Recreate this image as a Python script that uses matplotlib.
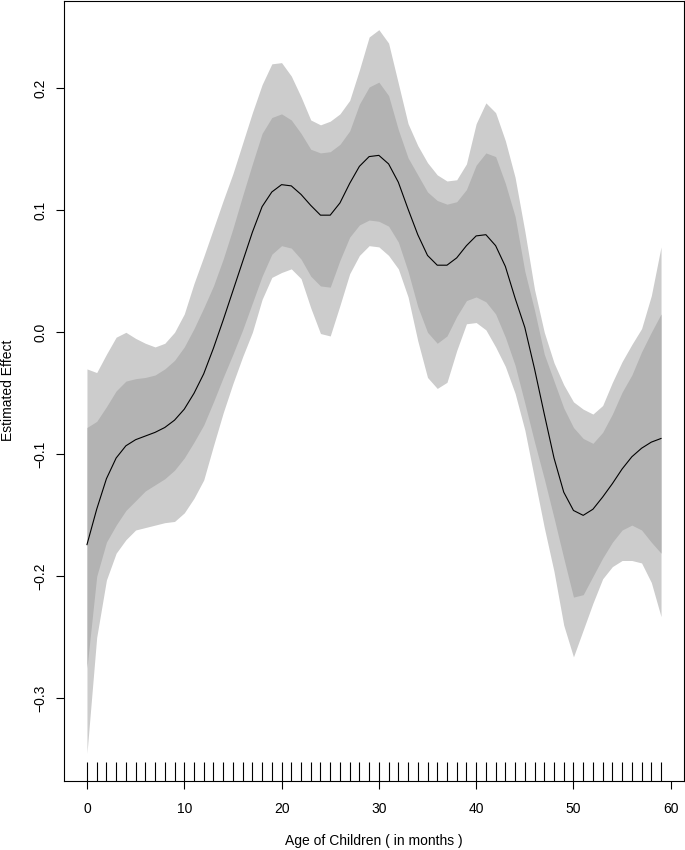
import matplotlib
matplotlib.use("Agg")
import matplotlib.pyplot as plt
import numpy as np

plt.rcParams['font.family'] = ['Liberation Sans', 'DejaVu Sans']

# age in months (one rug mark per observed age)
age = list(range(60))

# estimated smooth effect
effect = [-0.174, -0.145, -0.120, -0.103, -0.093, -0.088, -0.085, -0.082, -0.078, -0.072,
          -0.063, -0.050, -0.034, -0.013, 0.010, 0.034, 0.058, 0.082, 0.103, 0.115,
          0.121, 0.120, 0.113, 0.104, 0.096, 0.096, 0.106, 0.122, 0.136, 0.144,
          0.145, 0.138, 0.123, 0.101, 0.080, 0.063, 0.055, 0.055, 0.061, 0.071,
          0.079, 0.080, 0.071, 0.054, 0.028, 0.004, -0.030, -0.067, -0.103, -0.131,
          -0.146, -0.150, -0.145, -0.135, -0.124, -0.112, -0.102, -0.095, -0.090, -0.087]

# inner (dark) band
inner_hi = [-0.078, -0.073, -0.061, -0.048, -0.040, -0.038, -0.037, -0.035, -0.030, -0.023,
            -0.012, 0.003, 0.020, 0.038, 0.060, 0.085, 0.112, 0.138, 0.163, 0.176,
            0.179, 0.174, 0.163, 0.150, 0.147, 0.148, 0.154, 0.165, 0.187, 0.201,
            0.205, 0.194, 0.166, 0.143, 0.129, 0.115, 0.108, 0.105, 0.107, 0.117,
            0.137, 0.147, 0.144, 0.122, 0.095, 0.050, 0.018, -0.018, -0.040, -0.062,
            -0.078, -0.087, -0.091, -0.082, -0.067, -0.049, -0.035, -0.016, 0.000, 0.015]
inner_lo = [-0.275, -0.200, -0.172, -0.158, -0.146, -0.138, -0.130, -0.125, -0.120, -0.113,
            -0.103, -0.090, -0.076, -0.057, -0.037, -0.018, 0.002, 0.024, 0.046, 0.064,
            0.071, 0.069, 0.060, 0.046, 0.038, 0.037, 0.059, 0.078, 0.088, 0.092,
            0.091, 0.087, 0.074, 0.050, 0.021, 0.000, -0.009, -0.003, 0.013, 0.026,
            0.029, 0.025, 0.015, -0.004, -0.027, -0.058, -0.090, -0.120, -0.152, -0.185,
            -0.217, -0.215, -0.200, -0.185, -0.172, -0.162, -0.158, -0.162, -0.172, -0.181]

# outer (light) band
outer_hi = [-0.030, -0.033, -0.018, -0.004, 0.000, -0.005, -0.009, -0.012, -0.009, 0.000,
            0.015, 0.040, 0.062, 0.085, 0.108, 0.130, 0.155, 0.180, 0.203, 0.220,
            0.221, 0.210, 0.193, 0.174, 0.170, 0.173, 0.179, 0.190, 0.215, 0.242,
            0.248, 0.237, 0.204, 0.171, 0.153, 0.139, 0.129, 0.124, 0.125, 0.138,
            0.171, 0.188, 0.180, 0.157, 0.127, 0.083, 0.035, 0.000, -0.025, -0.043,
            -0.057, -0.063, -0.067, -0.060, -0.041, -0.024, -0.010, 0.003, 0.030, 0.070]
outer_lo = [-0.345, -0.250, -0.203, -0.181, -0.170, -0.162, -0.160, -0.158, -0.156, -0.155,
            -0.148, -0.136, -0.121, -0.093, -0.066, -0.042, -0.020, 0.000, 0.027, 0.045,
            0.049, 0.052, 0.044, 0.020, -0.001, -0.003, 0.022, 0.048, 0.063, 0.071,
            0.070, 0.063, 0.052, 0.029, -0.007, -0.037, -0.046, -0.041, -0.015, 0.007,
            0.008, 0.002, -0.012, -0.028, -0.050, -0.080, -0.120, -0.160, -0.196, -0.240,
            -0.266, -0.244, -0.222, -0.202, -0.192, -0.187, -0.187, -0.189, -0.205, -0.233]

fig = plt.figure(figsize=(6.85, 8.5), dpi=100)
ax = fig.add_axes([64/685, 1 - 781/850, 620/685, 780/850])

ax.fill_between(age, outer_lo, outer_hi, color='#cccccc', linewidth=0)
ax.fill_between(age, inner_lo, inner_hi, color='#b3b3b3', linewidth=0)
ax.plot(age, effect, color='black', linewidth=0.8)

# rug
ax.vlines(age, 0, 0.024, transform=ax.get_xaxis_transform(), color='black', linewidth=0.8)

# R style limits (4% extension)
ax.set_xlim(-2.36, 61.36)
ax.set_ylim(-0.3677, 0.2715)

ax.set_xticks([0, 10, 20, 30, 40, 50, 60])
ax.set_yticks([-0.3, -0.2, -0.1, 0.0, 0.1, 0.2])
ax.set_yticklabels(['\u22120.3', '\u22120.2', '\u22120.1', '0.0', '0.1', '0.2'])
ax.tick_params(axis='both', direction='out', length=6, width=0.8, labelsize=10)
ax.tick_params(axis='x', pad=9)
ax.tick_params(axis='y', pad=6)
for lab in ax.get_yticklabels():
    lab.set_rotation(90)
    lab.set_va('center')

for s in ax.spines.values():
    s.set_linewidth(0.8)

ax.text(0.5, -(841 - 781) / 780, 'Age of Children ( in months )', transform=ax.transAxes,
        ha='center', va='center', fontsize=10)
fig.text(8/685, 1 - 390/850, 'Estimated Effect', rotation=90, ha='center', va='center',
         fontsize=10)

fig.savefig('out.png', dpi=100)
